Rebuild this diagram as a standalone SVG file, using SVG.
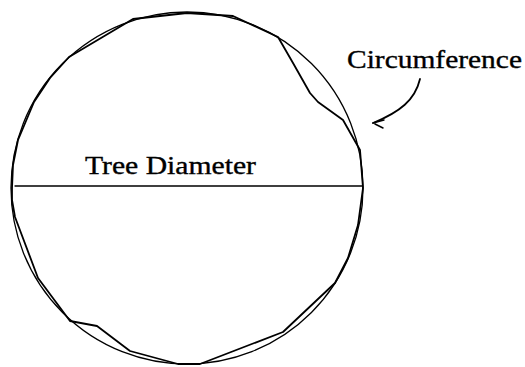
<svg xmlns="http://www.w3.org/2000/svg" width="525" height="367" viewBox="0 0 525 367">
<style>
.ln{fill:none;stroke:#000;stroke-linejoin:round;stroke-linecap:round}
.lbl{font-family:"Liberation Serif","Times New Roman",serif;font-size:25px;fill:#000;stroke:#000;stroke-width:0.35}
</style>
<rect width="525" height="367" fill="#fff"/>
<g id="circle">
<circle class="ln" cx="187" cy="188" r="176" stroke-width="1.3"/>
</g>
<g id="tree-outline">
<path class="ln" stroke-width="1.8" d="M12,188 L13,165 L18,140 L34,102 L50,78 L69,57 L133,19 L187,13 L233,16 L278,37 L293,63 L310,93 L318,102 L343,120 L360,150 L363,188 L358,225 L348,258 L335,283 L283,332 L200,364 L178,364 L130,351 L97,326 L70,321 L38,278 L15,217 L12,200 Z"/>
</g>
<g id="diameter">
<line class="ln" x1="15" y1="186" x2="362" y2="186" stroke-width="1.3"/>
<text class="lbl" x="85" y="174" textLength="171" lengthAdjust="spacingAndGlyphs">Tree Diameter</text>
</g>
<g id="circumference-label">
<text class="lbl" x="347" y="68" textLength="175" lengthAdjust="spacingAndGlyphs">Circumference</text>
</g>
<g id="connectors">
<path class="ln" stroke-width="1.8" d="M420,79 C415,100 400,112 373,123"/>
<path class="ln" stroke-width="1.5" d="M373,123 L384,120 M375,124 L383,128"/>
</g>
</svg>
